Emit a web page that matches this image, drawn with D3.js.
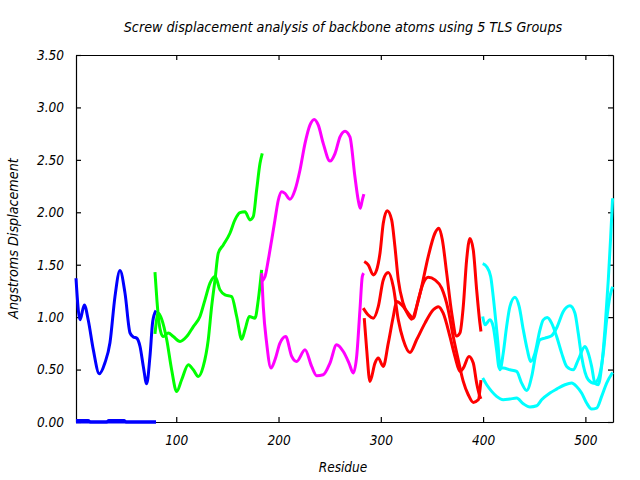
<!DOCTYPE html>
<html>
<head>
<meta charset="utf-8">
<script src="https://cdn.jsdelivr.net/npm/d3@7"></script>
<style>
  html, body { margin: 0; padding: 0; background: #fff; }
  svg text { font-family: "DejaVu Sans Condensed", "DejaVu Sans", sans-serif; font-style: italic; fill: #000; }
</style>
</head>
<body>
<svg id="chart" width="640" height="480"></svg>
<script>
// ---- data: [residue, displacement] ----
const title = "Screw displacement analysis of backbone atoms using 5 TLS Groups";
const xLabel = "Residue";
const yLabel = "Angstroms Displacement";
const xTicks = [100, 200, 300, 400, 500];
const yTicks = [0, 0.5, 1.0, 1.5, 2.0, 2.5, 3.0, 3.5];
const xDomain = [2, 527];
const yDomain = [0, 3.5];
const groupColors = ["#0000ff", "#00ff00", "#ff00ff", "#ff0000", "#00ffff"];

const blueA = [[2,1.371],[5.9,0.974],[10.1,1.117],[14,0.97],[18.9,0.69],[24.8,0.46],[30.3,0.565],[35.2,0.755],[40.1,1.196],[45,1.444],[49.9,1.229],[54.8,0.85],[58,0.81],[61.3,0.80],[64.6,0.72],[67.8,0.53],[71.1,0.365],[74.3,0.625],[77,0.958],[80.2,1.063]];
const blueB = [[2,0.015],[14,0.015],[16,0],[32,0],[34,0.015],[49,0.015],[51,0],[80.2,0]];
const blueC = [[2,0],[40,0],[80.2,0]];

const greenA = [[79.2,1.43],[81.2,1.15],[83.1,0.95],[85.1,0.85],[87.3,0.815],[92.2,0.848],[97.1,0.815],[103.7,0.768],[110.2,0.815],[116.7,0.91],[123.2,1.006],[128.1,1.165],[133,1.324],[137.9,1.387],[142.8,1.26],[147.7,1.212],[154.2,1.196],[159.1,1.006],[164,0.79],[167.2,0.879],[171.4,1.006],[177,0.99],[180.2,1.165],[183.5,1.45]];
const greenB = [[79.2,0.84],[82.4,1.04],[85.8,0.98],[90.7,0.784],[95.5,0.498],[100.4,0.29],[105.3,0.403],[111.8,0.546],[116.7,0.498],[121.6,0.434],[126.4,0.53],[131.3,0.784],[134.6,1.10],[137.9,1.355],[141.1,1.61],[146,1.689],[152.5,1.80],[157.4,1.927],[162.3,1.996],[167.2,2.006],[172.1,1.927],[175.3,1.958],[178.6,2.212],[181.9,2.467],[184.1,2.562]];

const magentaA = [[183.5,1.34],[186.8,1.387],[190,1.546],[193.3,1.736],[196.5,1.927],[199.8,2.117],[203.1,2.196],[206.3,2.18],[211.2,2.124],[216.1,2.212],[221,2.403],[225.9,2.657],[230.7,2.831],[234.9,2.886],[238.9,2.831],[243.7,2.657],[250.3,2.488],[255.2,2.56],[260.1,2.72],[265,2.774],[269.8,2.72],[274.7,2.339],[277.9,2.117],[279.9,2.038],[281.9,2.117],[283.5,2.174]];
const magentaB = [[183.5,1.42],[185.1,1.10],[188.4,0.752],[192.6,0.514],[196.5,0.593],[201.4,0.752],[207,0.815],[212.9,0.625],[217.7,0.577],[225.9,0.689],[232.4,0.53],[237.3,0.441],[243.7,0.45],[250.3,0.562],[256.8,0.736],[263.3,0.672],[268.9,0.562],[273.1,0.467],[276.4,0.625],[279.6,1.07],[281.9,1.387],[283.2,1.42]];

const redA = [[283.8,1.53],[287.7,1.498],[292.6,1.403],[295.9,1.45],[299.2,1.61],[302.4,1.895],[306.3,2.015],[310.6,1.927],[313.8,1.672],[317.1,1.355],[321.9,1.13],[326.8,1.02],[330.2,0.98],[335,1.10],[339.9,1.29],[346.4,1.58],[352.9,1.80],[356.8,1.848],[360.1,1.74],[364.4,1.42],[369.3,1.04],[374.1,0.82],[377.4,0.85],[380.6,1.10],[383.9,1.546],[387.1,1.75],[390.4,1.64],[393.7,1.26],[396.9,0.94],[397.9,0.863]];
const redB = [[282.8,1.086],[287.7,1.02],[292.6,0.99],[297.5,1.10],[302.4,1.355],[307.3,1.425],[312.2,1.29],[317.1,0.974],[321.9,0.784],[328.5,0.663],[335,0.784],[343.2,0.943],[351.3,1.07],[356.2,1.10],[361,1.038],[367.6,0.815],[372.5,0.625],[377.4,0.482],[380.6,0.514],[386.2,0.625],[390.4,0.562],[393.7,0.371],[396.9,0.244],[397.9,0.22]];
const redC = [[283.8,0.99],[286.2,0.689],[289.4,0.387],[294.3,0.562],[297.5,0.61],[302.4,0.53],[307.3,0.752],[312.2,1.006],[315.5,1.149],[320.4,1.117],[326.8,1.038],[331.7,0.99],[336.6,1.165],[341.5,1.324],[346.4,1.38],[352.9,1.355],[359.5,1.276],[365.9,1.07],[370.8,0.815],[375.7,0.593],[380.6,0.387],[385.5,0.26],[390.4,0.187],[395.3,0.212],[397.9,0.40]];

const cyanA = [[399.6,1.51],[403.5,1.48],[407.4,1.387],[409.9,1.196],[412.6,0.943],[414.8,0.72],[416.5,0.498],[419.7,0.657],[423,0.91],[426.2,1.10],[431.1,1.19],[435.3,1.10],[439.3,0.879],[443.2,0.689],[446.5,0.577],[450.7,0.657],[455.6,0.879],[458.8,0.974],[462.7,0.996],[467,0.943],[471.9,0.815],[476.8,0.657],[481.7,0.53],[488.1,0.498],[493,0.593],[499.6,0.72],[502.8,0.657],[506.1,0.53],[509.3,0.371],[512.6,0.355],[515.9,0.53],[519.1,0.879],[522.4,1.355],[524.7,1.76],[526.6,2.134]];
const cyanB = [[399.6,1.006],[401.8,0.927],[406.7,0.974],[409.9,0.91],[413.2,0.689],[415.8,0.514],[419.7,0.514],[426.2,0.498],[432.8,0.482],[437.7,0.371],[442.6,0.30],[447.5,0.434],[451.7,0.657],[455.6,0.784],[460.5,0.80],[467,0.822],[472.5,0.91],[478.4,1.053],[484.9,1.108],[489.8,1.038],[493,0.848],[496.3,0.625],[502.8,0.403],[508.4,0.37],[512,0.40],[517.5,0.657],[520.8,0.974],[524,1.196],[526.6,1.29]];
const cyanC = [[399.6,0.419],[403.5,0.355],[408.4,0.292],[413.2,0.244],[419.7,0.212],[426.2,0.219],[432.8,0.228],[439.3,0.174],[445.8,0.143],[452.4,0.155],[457.2,0.212],[465.3,0.276],[471.9,0.314],[480,0.355],[486.6,0.371],[491.4,0.339],[496.3,0.276],[501.2,0.181],[506.1,0.124],[511,0.133],[515.9,0.244],[520.8,0.371],[526.6,0.472]];

const groups = [
  [blueA, blueB, blueC],
  [greenA, greenB],
  [magentaA, magentaB],
  [redA, redB, redC],
  [cyanA, cyanB, cyanC]
];

// ---- layout ----
const W = 640, H = 480;
const m = { left: 76, right: 27, top: 55, bottom: 58 };
const svg = d3.select("#chart");
svg.append("rect").attr("width", W).attr("height", H).attr("fill", "#fff");

const x = d3.scaleLinear().domain(xDomain).range([m.left, W - m.right]);
const y = d3.scaleLinear().domain(yDomain).range([H - m.bottom, m.top]);

const tickLen = 5;
const fmtY = d3.format(".2f");

// axes (ticks inward, mirrored)
const gB = svg.append("g").attr("transform", `translate(0,${y(0)})`)
  .call(d3.axisBottom(x).tickValues(xTicks).tickSizeInner(-tickLen).tickSizeOuter(0).tickPadding(13));
const gT = svg.append("g").attr("transform", `translate(0,${y(3.5)})`)
  .call(d3.axisTop(x).tickValues(xTicks).tickSizeInner(-tickLen).tickSizeOuter(0).tickFormat(""));
const gL = svg.append("g").attr("transform", `translate(${x(xDomain[0])},0)`)
  .call(d3.axisLeft(y).tickValues(yTicks).tickSizeInner(-tickLen).tickSizeOuter(0).tickFormat(fmtY).tickPadding(12));
const gR = svg.append("g").attr("transform", `translate(${x(xDomain[1])},0)`)
  .call(d3.axisRight(y).tickValues(yTicks).tickSizeInner(-tickLen).tickSizeOuter(0).tickFormat(""));

[gB, gT, gL, gR].forEach(g => {
  g.select(".domain").attr("stroke", "#000").attr("stroke-width", 1.2);
  g.selectAll(".tick line").attr("stroke", "#000").attr("stroke-width", 1.2);
  g.selectAll(".tick text").attr("font-family", null).attr("font-size", 13.5).style("font-style", "italic");
});

// lines
const line = d3.line().x(d => x(d[0])).y(d => y(d[1])).curve(d3.curveMonotoneX);
const plot = svg.append("g");
groups.forEach((grp, gi) => {
  grp.forEach(series => {
    plot.append("path").datum(series)
      .attr("d", line)
      .attr("fill", "none")
      .attr("stroke", groupColors[gi])
      .attr("stroke-width", 3)
      .attr("stroke-linejoin", "round");
  });
});

// titles
svg.append("text").attr("x", 343).attr("y", 32).attr("text-anchor", "middle")
  .attr("font-size", 14.2).text(title);
svg.append("text").attr("x", 343).attr("y", 472).attr("text-anchor", "middle")
  .attr("font-size", 13.5).text(xLabel);
svg.append("text").attr("transform", `translate(18,${(y(0)+y(3.5))/2}) rotate(-90)`)
  .attr("text-anchor", "middle").attr("font-size", 14.2).text(yLabel);
</script>
</body>
</html>
